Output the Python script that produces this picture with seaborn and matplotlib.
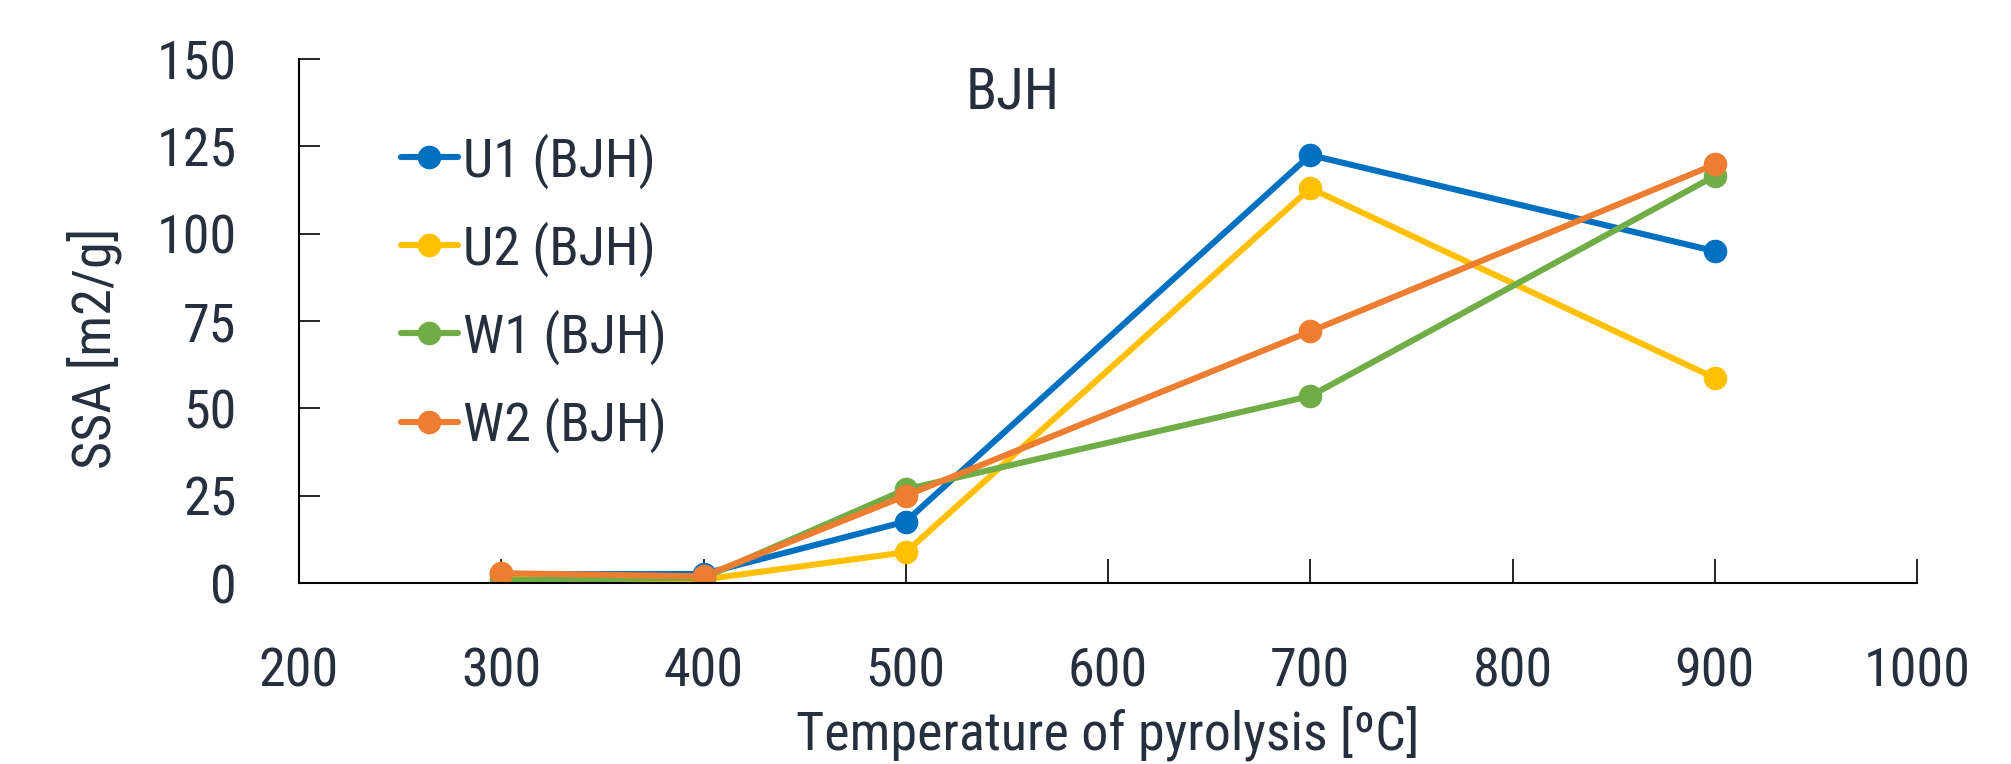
import matplotlib
matplotlib.use("Agg")
import matplotlib.pyplot as plt
import matplotlib.font_manager as fm
import seaborn as sns
import pandas as pd

# ---- data ----
temperatures = [300, 400, 500, 700, 900]
u1_bjh = [2.5, 2.6, 17.6, 122.5, 95.0]
u2_bjh = [1.5, 1.0, 8.8, 113.0, 58.7]
w1_bjh = [0.8, 1.5, 26.8, 53.5, 116.5]
w2_bjh = [2.8, 1.9, 25.0, 72.0, 119.8]
series_names = ["U1 (BJH)", "U2 (BJH)", "W1 (BJH)", "W2 (BJH)"]
series_colors = ["#0070C0", "#FFC000", "#70AD47", "#ED7D31"]
x_ticks = [200, 300, 400, 500, 600, 700, 800, 900, 1000]
y_ticks = [0, 25, 50, 75, 100, 125, 150]

rows = []
for name, vals in zip(series_names, [u1_bjh, u2_bjh, w1_bjh, w2_bjh]):
    for t, v in zip(temperatures, vals):
        rows.append({"Temperature": t, "SSA": v, "Series": name})
df = pd.DataFrame(rows)

sns.set_theme(style="white")

# choose a condensed font if one is installed
fam, stretch = "DejaVu Sans", "normal"
entries = fm.fontManager.ttflist
names = {f.name for f in entries}
for cand in ["Liberation Sans Narrow", "Roboto Condensed", "Open Sans Condensed",
             "Noto Sans Condensed", "DejaVu Sans Condensed"]:
    if cand in names:
        fam = cand
        break
else:
    for pref in ["Roboto", "Noto Sans", "Open Sans", "DejaVu Sans", "Lato", "Inter"]:
        hits = [f for f in entries if f.name == pref and "condensed" in str(f.stretch).lower()
                and "semi" not in str(f.stretch).lower() and "extra" not in str(f.stretch).lower()
                and str(f.style) == "normal"]
        if hits:
            fam, stretch = pref, hits[0].stretch
            break

plt.rcParams["font.family"] = [fam, "DejaVu Sans"]
plt.rcParams["font.stretch"] = stretch
txt = "#262F3D"
plt.rcParams["text.color"] = txt
plt.rcParams["axes.labelcolor"] = txt
FS = 39

fig = plt.figure(figsize=(20.11, 7.64), dpi=100)
ax = fig.add_axes([299 / 2011, 1 - 583 / 764, (1917 - 299) / 2011, (583 - 59) / 764])

sns.lineplot(data=df, x="Temperature", y="SSA", hue="Series",
             palette=dict(zip(series_names, series_colors)),
             hue_order=series_names, marker="o", markersize=17,
             markeredgewidth=0, linewidth=4.4, ax=ax, legend=True)

ax.set_xlim(200, 1000)
ax.set_ylim(0, 150)
ax.set_xticks(x_ticks)
ax.set_yticks(y_ticks)
ax.set_xticklabels([str(v) for v in x_ticks])
ax.set_yticklabels([str(v) for v in y_ticks])

for s in ["top", "right"]:
    ax.spines[s].set_visible(False)
for s in ["left", "bottom"]:
    ax.spines[s].set_color("black")
    ax.spines[s].set_linewidth(1.5)

ax.tick_params(axis="x", which="major", bottom=True, direction="in", length=17,
               width=1.2, color="black", labelsize=FS, pad=46, labelcolor=txt)
ax.tick_params(axis="y", which="major", left=True, direction="in", length=15,
               width=1.2, color="black", labelsize=FS, pad=45, labelcolor=txt)

ax.set_xlabel("Temperature of pyrolysis [ºC]", fontsize=FS, color=txt)
ax.set_ylabel("SSA [m2/g]", fontsize=FS, color=txt)
ax.xaxis.set_label_coords(0.5, -0.235)
ax.yaxis.set_label_coords(-0.109, 0.447)

fig.text(1013 / 2011, 1 - 93 / 764, "BJH", fontsize=41, color=txt,
         ha="center", va="center")

handles, labels = ax.get_legend_handles_labels()
leg = ax.legend(handles, labels, loc="upper left",
                bbox_to_anchor=(401 / 2011, 1 - 133 / 764),
                bbox_transform=fig.transFigure, frameon=False,
                fontsize=FS, handlelength=1.05, handletextpad=0.1,
                labelspacing=0.6, borderpad=0, borderaxespad=0)
for t in leg.get_texts():
    t.set_color(txt)

fig.savefig("out.png", dpi=100)
